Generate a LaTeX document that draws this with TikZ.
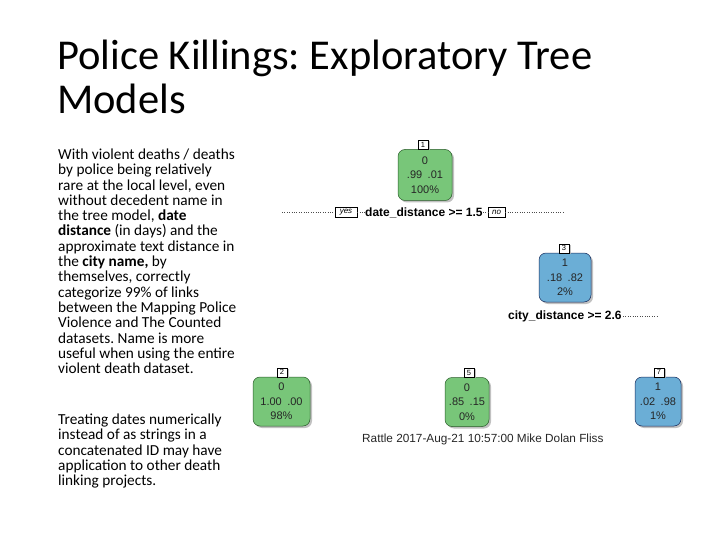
\documentclass[tikz,border=0pt]{standalone}
\usepackage{fontspec}
\setmainfont{Carlito}
\newfontfamily\arialf{Liberation Sans}
\usetikzlibrary{shadows}
\frenchspacing
\definecolor{nodegreen}{RGB}{120,198,121}
\definecolor{nodeblue}{RGB}{107,174,214}
\definecolor{bordgreen}{RGB}{40,90,40}
\definecolor{bordblue}{RGB}{20,40,90}
\newcommand{\gp}{\hspace{0.5em}}
\tikzset{
  body/.style={anchor=base west, inner sep=0pt, font=\fontsize{15.3}{15.3}\selectfont},
  title/.style={anchor=base west, inner sep=0pt, font=\fontsize{42.5}{43}\selectfont},
  leaf/.style={rounded corners=7pt, draw, line width=0.5pt, inner sep=0pt, align=center,
    font=\arialf\fontsize{11}{14.6}\selectfont,
    drop shadow={shadow xshift=2pt, shadow yshift=-2pt, fill=black!30, opacity=0.8}},
  gleaf/.style={leaf, fill=nodegreen, draw=bordgreen, text=black!85},
  bleaf/.style={leaf, fill=nodeblue, draw=bordblue, text=black!85},
  numbox/.style={draw, fill=white, line width=0.4pt, inner sep=0pt, minimum width=10pt, minimum height=9pt,
    font=\arialf\fontsize{7.5}{7.5}\selectfont, anchor=south,
    drop shadow={shadow xshift=2pt, shadow yshift=-1pt, fill=black!30, opacity=0.8}},
  yn/.style={draw, fill=white, line width=0.4pt, inner sep=0pt, minimum height=10pt,
    font=\arialf\itshape\fontsize{8}{8}\selectfont},
  splittext/.style={inner sep=0pt, font=\arialf\bfseries\fontsize{12}{14}\selectfont},
  dotline/.style={draw=black!70, line width=0.6pt, dash pattern=on 0.6pt off 1.8pt}
}
\begin{document}
\begin{tikzpicture}[x=1pt,y=-1pt]
\useasboundingbox (0,0) rectangle (720,540);
% title
\node[title] (ti1) at (57,70) {Police Killings: Exploratory Tree};
\node[title] (ti2) at (57,114) {Models};
% body text
\node[body] (b1) at (58,159.5) {With violent deaths / deaths};
\node[body] (b2) at (58,174.8) {by police being relatively};
\node[body] (b3) at (58,190.1) {rare at the local level, even};
\node[body] (b4) at (58,205.4) {without decedent name in};
\node[body] (b5) at (58,220.7) {the tree model, \textbf{date}};
\node[body] (b6) at (58,236.0) {\textbf{distance} (in days) and the};
\node[body] (b7) at (58,251.3) {approximate text distance in};
\node[body] (b8) at (58,266.6) {the \textbf{city name,} by};
\node[body] (b9) at (58,281.9) {themselves, correctly};
\node[body] (b10) at (58,297.2) {categorize 99\% of links};
\node[body] (b11) at (58,312.5) {between the Mapping Police};
\node[body] (b12) at (58,327.8) {Violence and The Counted};
\node[body] (b13) at (58,343.1) {datasets. Name is more};
\node[body] (b14) at (58,358.4) {useful when using the entire};
\node[body] (b15) at (58,373.7) {violent death dataset.};
\node[body] (b16) at (58,424.5) {Treating dates numerically};
\node[body] (b17) at (58,439.8) {instead of as strings in a};
\node[body] (b18) at (58,455.1) {concatenated ID may have};
\node[body] (b19) at (58,470.4) {application to other death};
\node[body] (b20) at (58,485.7) {linking projects.};
% tree nodes
\node[gleaf, minimum width=54pt, minimum height=51pt] (n1) at (425,175) {0\\.99\gp.01\\100\%};
\node[numbox] (l1) at (423,149.5) {1};
\node[bleaf, minimum width=52pt, minimum height=49pt] (n3) at (565,277.5) {1\\.18\gp.82\\2\%};
\node[numbox] (l3) at (564,253) {3};
\node[gleaf, minimum width=57pt, minimum height=49pt] (n2) at (281.5,401.5) {0\\1.00\gp.00\\98\%};
\node[numbox] (l2) at (282,377) {2};
\node[gleaf, minimum width=44pt, minimum height=49pt] (n5) at (467,402) {0\\.85\gp.15\\0\%};
\node[numbox] (l5) at (469,377.5) {5};
\node[bleaf, minimum width=46pt, minimum height=49pt] (n7) at (658,401.5) {1\\.02\gp.98\\1\%};
\node[numbox] (l7) at (659,377) {7};
% split 1
\coordinate (d1a) at (282,212.5);
\coordinate (d1b) at (564,212.5);
\node[yn, minimum width=22pt] (yes) at (346,212.5) {yes};
\node[splittext, anchor=west] (s1) at (365,212.5) {date\_distance >= 1.5};
\node[yn, minimum width=17pt] (no) at (496.5,212.5) {no};
\draw[dotline] (d1a) -- (yes.west);
\draw[dotline] (yes.east) -- (s1.west);
\draw[dotline] (s1.east) -- (no.west);
\draw[dotline] (no.east) -- (d1b);
% split 2
\node[splittext, anchor=west] (s2) at (508,316) {city\_distance >= 2.6};
\coordinate (d2a) at (623,316);
\coordinate (d2b) at (658,316);
\draw[dotline] (d2a) -- (d2b);
% footer
\node[inner sep=0pt, anchor=west, font=\arialf\fontsize{11.8}{12}\selectfont, text=black!85] (rat) at (362,439) {Rattle 2017-Aug-21 10:57:00 Mike Dolan Fliss};
\end{tikzpicture}
\end{document}
